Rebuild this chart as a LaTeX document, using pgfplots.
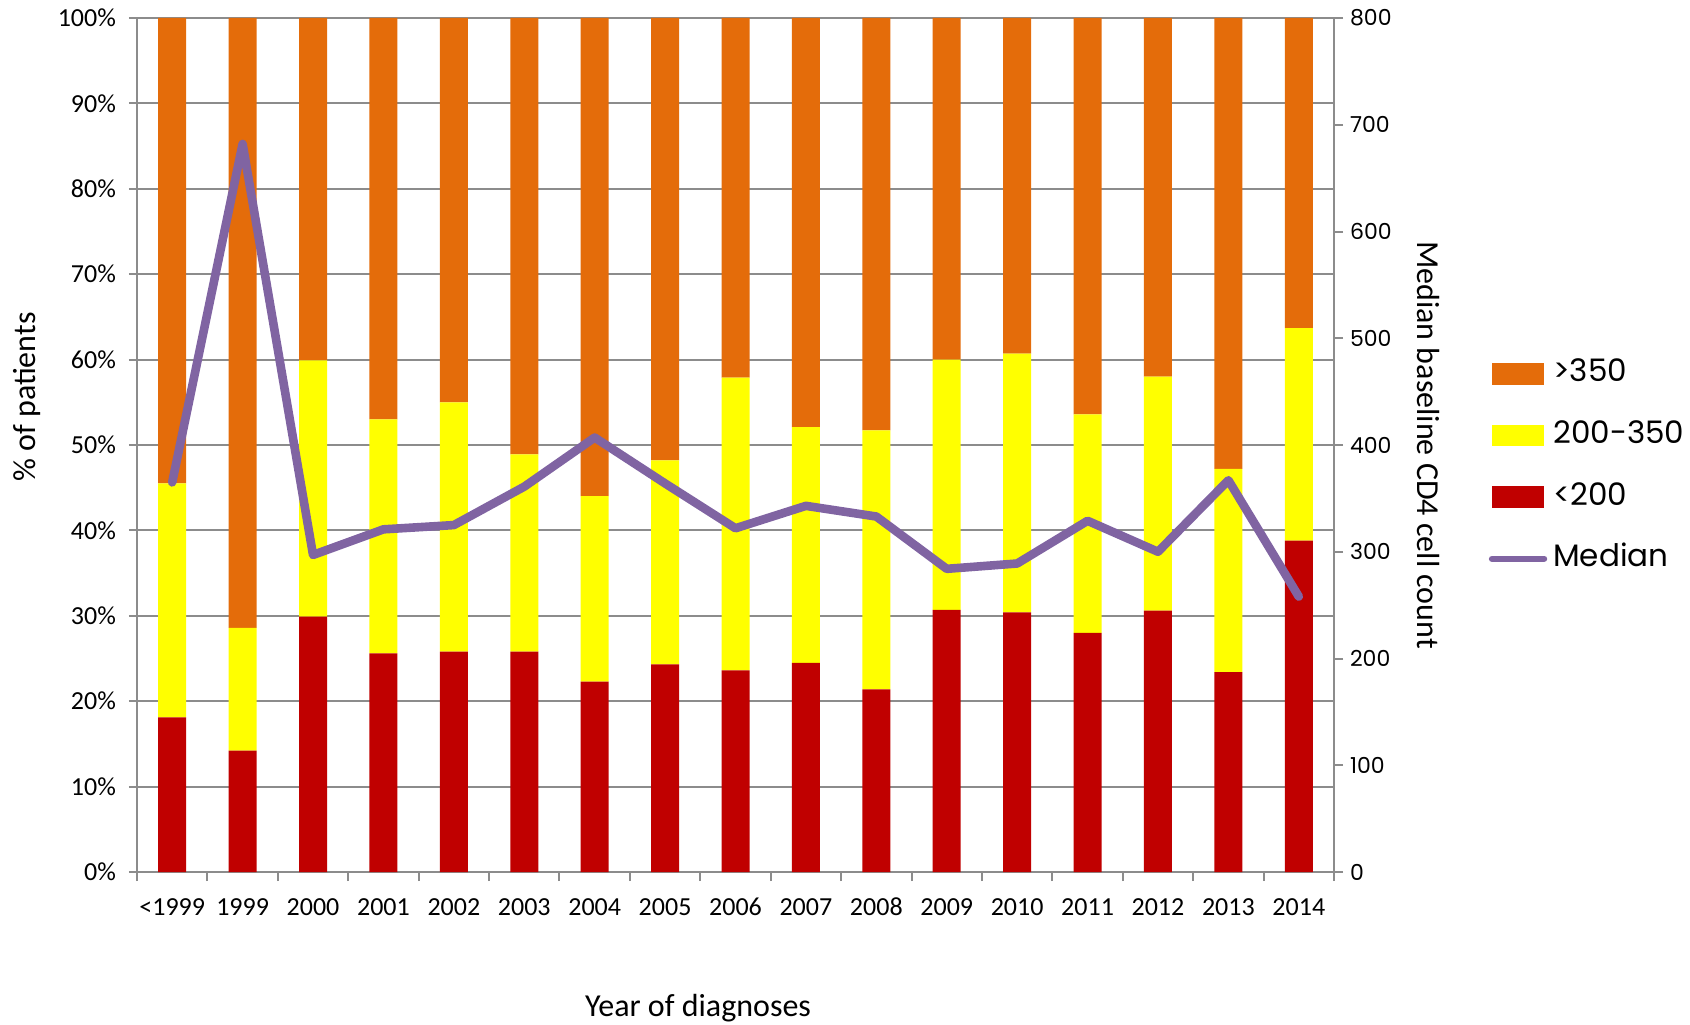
\documentclass[border=0pt]{standalone}
\usepackage{fontspec}
\setmainfont{Carlito}
\newfontfamily\pop{Poppins}
\usepackage{pgfplots}
\usepackage{pgfplotstable}
\pgfplotsset{compat=1.18}
\definecolor{cRed}{HTML}{C00000}
\definecolor{cYel}{HTML}{FFFF00}
\definecolor{cOra}{HTML}{E46C0A}
\definecolor{cPur}{HTML}{8064A2}
\definecolor{cGrid}{HTML}{8C8C8C}
\pgfplotsset{
  boxlegend/.style={legend image code/.code={\fill[##1, draw=none] (0pt,-5.4pt) rectangle (26pt,5.4pt);}},
  linelegend/.style={legend image code/.code={\draw[##1, line width=3.2pt, line cap=round] (0pt,0pt) -- (26pt,0pt);}},
}
\pgfplotstableread{
x red yel ora med
0  18.1 27.4 54.5 365
1  14.2 14.4 71.4 682
2  29.9 30.0 40.1 297
3  25.6 27.4 47.0 321
4  25.8 29.2 45.0 325
5  25.8 23.1 51.1 361
6  22.3 21.7 56.0 407
7  24.3 23.9 51.8 364
8  23.6 34.3 42.1 322
9  24.5 27.6 47.9 343
10 21.4 30.3 48.3 333
11 30.7 29.3 40.0 284
12 30.4 30.3 39.3 289
13 28.0 25.6 46.4 329
14 30.6 27.4 42.0 300
15 23.4 23.8 52.8 367
16 38.8 24.9 36.3 258
}\datatable
\begin{document}
\begin{tikzpicture}
\useasboundingbox (0,0) rectangle (845pt,512pt);
\begin{axis}[
  at={(68.5pt,76pt)}, anchor=south west,
  width=598.5pt, height=427pt, scale only axis,
  xmin=-0.5, xmax=16.5, ymin=0, ymax=100,
  ybar stacked, bar width=14pt,
  axis x line*=bottom, axis y line*=left,
  axis line style={cGrid, line width=1pt, -},
  xtick={0,...,16},
  xticklabels={<1999,1999,2000,2001,2002,2003,2004,2005,2006,2007,2008,2009,2010,2011,2012,2013,2014},
  minor xtick={-0.5,0.5,...,16.5},
  ytick={0,10,...,100},
  yticklabel={\pgfmathprintnumber{\tick}\%},
  /pgf/number format/assume math mode=true,
  ymajorgrids, grid style={cGrid, line width=1pt},
  tick align=outside,
  major tick length=4pt, minor tick length=4.5pt,
  tick style={cGrid, line width=1pt},
  major x tick style={draw=none},
  tick label style={font=\fontsize{13}{15}\selectfont},
  xticklabel style={yshift=-5pt, text height=9pt, text depth=0pt},
  yticklabel style={xshift=-3pt},
  clip=false,
]
\addplot[fill=cRed, draw=none] table[x=x,y=red]{\datatable};
\addplot[fill=cYel, draw=none] table[x=x,y=yel]{\datatable};
\addplot[fill=cOra, draw=none] table[x=x,y=ora]{\datatable};
\end{axis}
\begin{axis}[
  at={(68.5pt,76pt)}, anchor=south west,
  width=598.5pt, height=427pt, scale only axis,
  xmin=-0.5, xmax=16.5, ymin=0, ymax=800,
  axis x line=none, axis y line*=right,
  axis line style={cGrid, line width=1pt, -},
  ytick={0,100,...,800},
  /pgf/number format/assume math mode=true,
  tick align=outside, major tick length=4.5pt,
  tick style={cGrid, line width=1pt},
  yticklabel style={font=\pop\fontsize{11}{13}\selectfont},
  legend style={at={(1.124,0.475)}, anchor=west, draw=none, fill=none,
    font=\pop\fontsize{15.5}{18}\selectfont, row sep=16.8pt,
    nodes={inner sep=0pt, inner xsep=3pt, text height=11pt, text depth=3pt}},
  legend cell align=left,
  clip=false,
]
\addlegendimage{boxlegend, fill=cOra}
\addlegendimage{boxlegend, fill=cYel}
\addlegendimage{boxlegend, fill=cRed}
\addplot[cPur, line width=4.3pt, line join=round, line cap=round, linelegend] table[x=x,y=med]{\datatable};
\legend{>350,200-350,<200,Median}
\end{axis}
\node[rotate=90, font=\fontsize{16}{19}\selectfont] at (13.5pt,313.5pt) {\% of patients};
\node[font=\fontsize{16}{19}\selectfont] at (349pt,8pt) {Year of diagnoses};
\node[rotate=-90, font=\fontsize{16}{19}\selectfont] at (714pt,289.5pt) {Median baseline CD4 cell count};
\end{tikzpicture}
\end{document}
